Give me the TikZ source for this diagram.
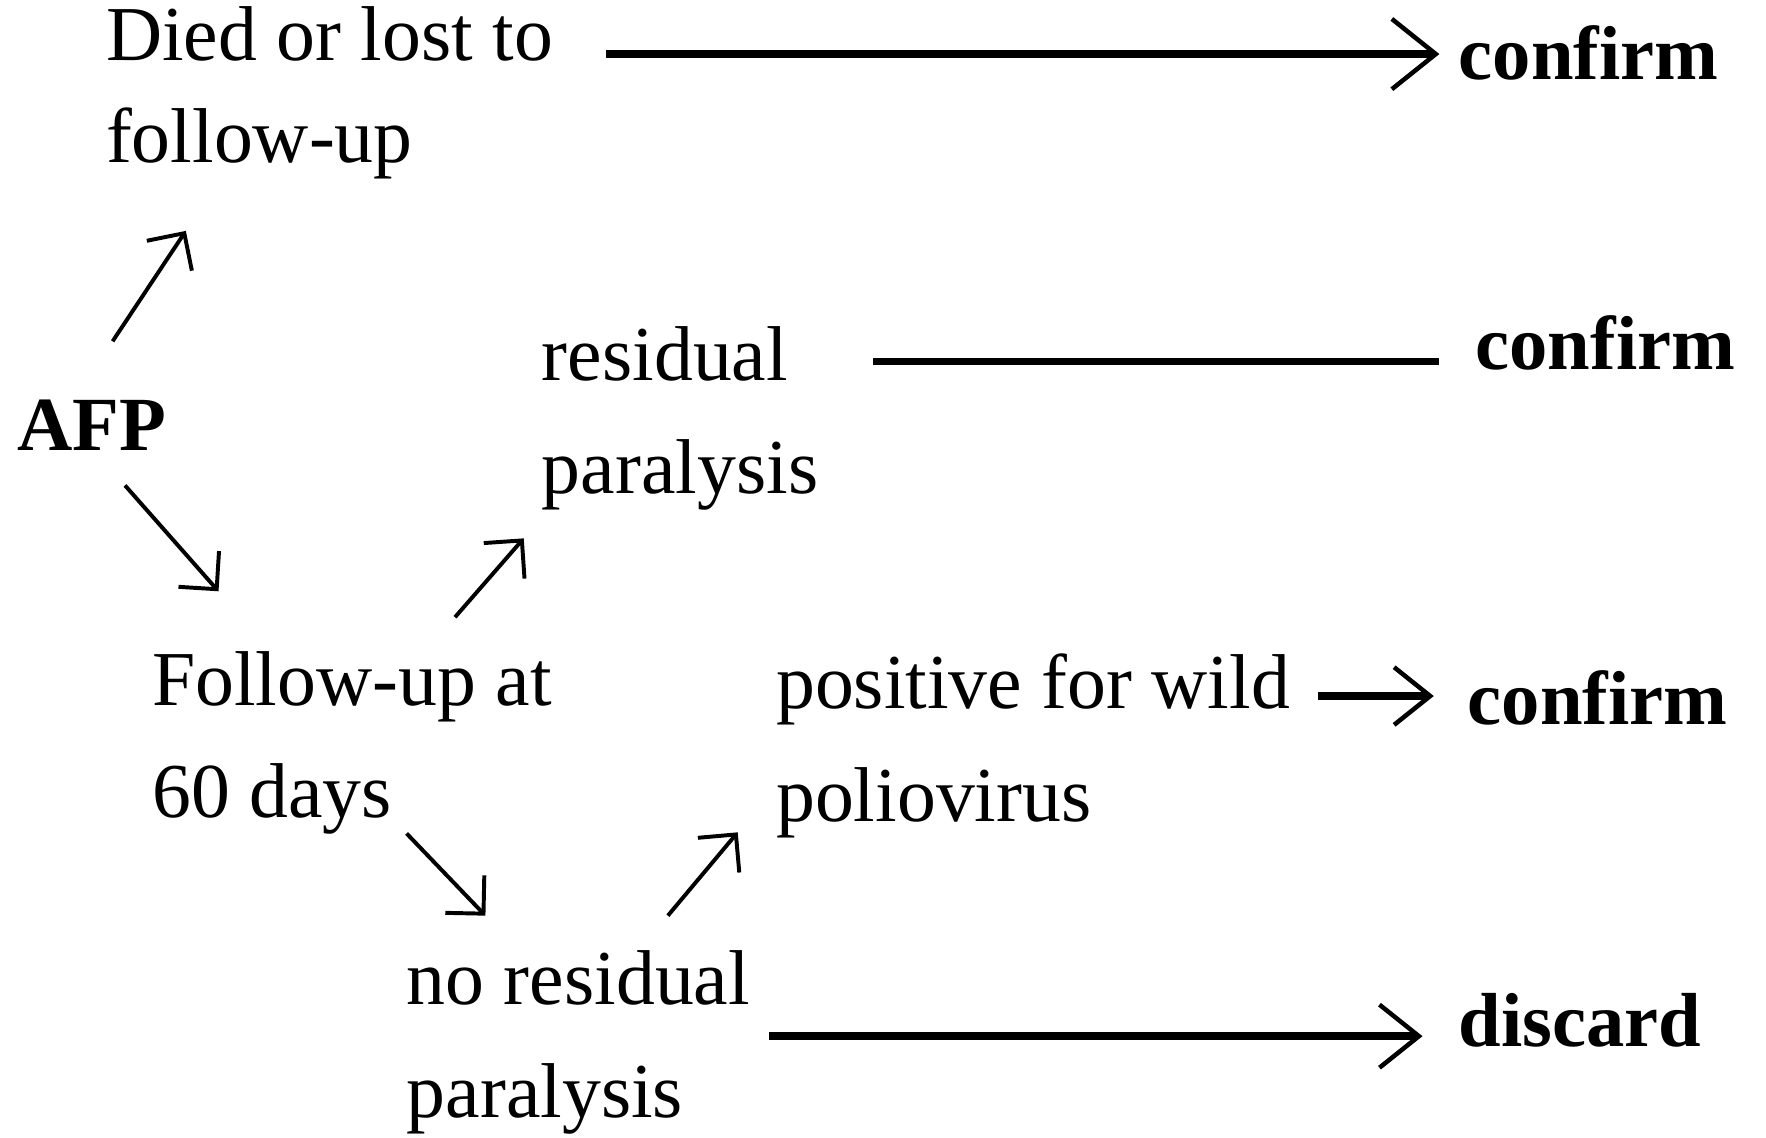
\documentclass[tikz,border=0pt]{standalone}
\usepackage{fontspec}
\setmainfont{Liberation Serif}
\usetikzlibrary{arrows.meta}
\begin{document}
\begin{tikzpicture}[x=1pt,y=1pt,
  lbl/.style={anchor=base west, inner sep=0pt, align=left, font=\fontsize{69}{100}\selectfont},
  lbltop/.style={lbl, font=\fontsize{69}{90}\selectfont},
  blbl/.style={lbl, font=\fontsize{68}{100}\selectfont\bfseries},
  thinarr/.style={line width=3.5pt, -{Straight Barb[length=24pt,width=48pt]}},
  thickarr/.style={line width=7pt, -{Straight Barb[length=#1,width=1.6*#1,line width=4pt]}},
  thickline/.style={line width=7pt}]
\useasboundingbox (0,0) rectangle (1568,1010);
% labels (anchor = baseline of last line)
\node[lbltop] (died) at (94,866) {Died or lost to\\follow-up};
\node[blbl] (afp) at (15,610) {AFP};
\node[lbl] (resid) at (481,572) {residual\\paralysis};
\node[lbl] (follow) at (135,284) {Follow-up at\\60 days};
\node[lbl] (pos) at (689,281) {positive for wild\\poliovirus};
\node[lbl] (nores) at (361,18) {no residual\\paralysis};
\node[blbl] (conf1) at (1295,939) {confirm};
\node[blbl] (conf2) at (1310,682) {confirm};
\node[blbl] (conf3) at (1303,367) {confirm};
\node[blbl] (disc) at (1295,81) {discard};
% connector end points
\coordinate (t1s) at (538,962);  \coordinate (t1e) at (1278,962);
\coordinate (t2s) at (775,689);  \coordinate (t2e) at (1278,689);
\coordinate (t3s) at (1170,392); \coordinate (t3e) at (1273,392);
\coordinate (t4s) at (683,90);   \coordinate (t4e) at (1263,90);
\coordinate (a1s) at (100,707);  \coordinate (a1e) at (165,805);
\coordinate (a2s) at (111,579);  \coordinate (a2e) at (194,485);
\coordinate (a3s) at (404,462);  \coordinate (a3e) at (465,532);
\coordinate (a4s) at (361,270);  \coordinate (a4e) at (431,197);
\coordinate (a5s) at (593,197);  \coordinate (a5e) at (655,271);
% connectors
\draw[thickarr=39pt] (t1s) -- (t1e);
\draw[thickline] (t2s) -- (t2e);
\draw[thickarr=32pt] (t3s) -- (t3e);
\draw[thickarr=35pt] (t4s) -- (t4e);
\draw[thinarr] (a1s) -- (a1e);
\draw[thinarr] (a2s) -- (a2e);
\draw[thinarr] (a3s) -- (a3e);
\draw[thinarr] (a4s) -- (a4e);
\draw[thinarr] (a5s) -- (a5e);
\end{tikzpicture}
\end{document}
